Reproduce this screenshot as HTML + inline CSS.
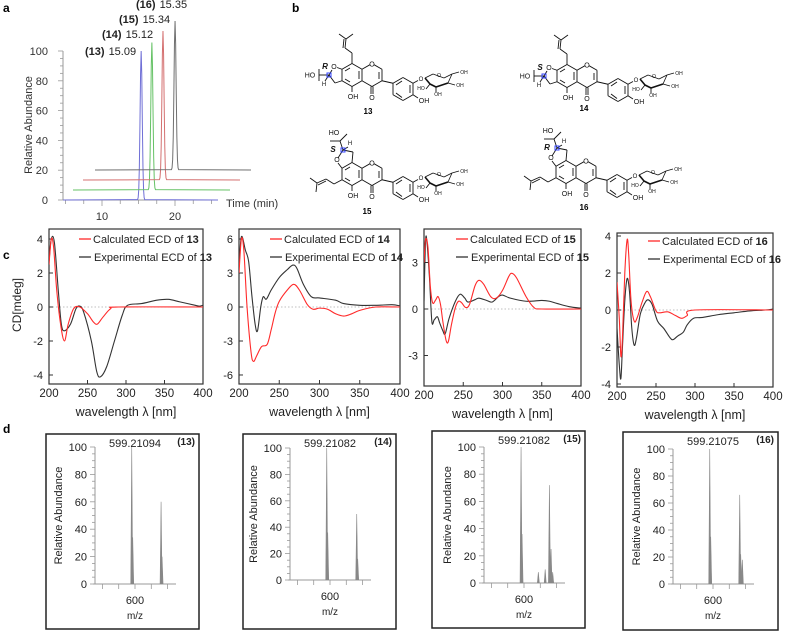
<!DOCTYPE html>
<html><head><meta charset="utf-8"><style>
body{margin:0;background:#fff;}
svg{display:block;font-family:"Liberation Sans",Arial,sans-serif;}
</style></head><body>
<svg id="fig" width="800" height="632" viewBox="0 0 800 632">
<g id="pa"></g>
<g id="pb"></g>
<g id="pc"></g>
<g id="pd"></g>
</svg>
<script>
// ---------- Panel a data ----------
const chromLabels = ["(13)","(14)","(15)","(16)"];
const chromTimes = [15.09, 15.12, 15.34, 15.35];
const chromHeights = [100, 99, 100, 100];
const chromColors = ["#6f6fd6","#66c266","#d47070","#707070"];
const chromYTicks = [0,20,40,60,80,100];
const chromXTicks = [10,20];
// ---------- Panel c data ----------
const ecdWl13 = [200,203,206,210,215,220,225,232,240,250,258,263,270,280,290,400];
const ecdCalc13 = [2.5,4,3.5,1,-1,-2,-1,-0.1,0,-0.4,-0.9,-1,-0.6,-0.1,0,0];
const ecdWlE13 = [200,203,207,212,216,220,228,235,240,245,255,262,267,275,285,295,302,320,340,355,370,390,395,400];
const ecdExp13 = [2.7,4,3.8,1,-1,-1.4,-1,-0.1,0.05,-0.3,-2,-3.8,-4.1,-3.5,-2,-0.5,0.1,0.2,0.4,0.45,0.3,0.1,0.05,0.1];
const ecdWl14 = [200,203,206,210,215,218,222,228,235,240,245,250,260,268,275,285,292,300,310,320,330,340,350,370,400];
const ecdCalc14 = [3,6,5,0,-4,-4.8,-4.3,-3.5,-3.3,-2,-0.5,0.5,1.5,2,1.5,0.2,-0.2,-0.1,-0.2,-0.6,-0.8,-0.6,-0.3,0,0];
const ecdWlE14 = [200,203,208,212,216,220,223,227,230,234,240,250,260,267,272,280,290,300,320,330,350,370,390,400];
const ecdExp14 = [3.5,6.2,5,4,1,-1.5,-2.1,0,0.9,0.7,1.5,2.6,3.3,3.7,3.4,2,0.9,0.8,0.6,0.3,0.15,0.15,0.2,0.1];
const ecdWl15 = [200,202,205,208,211,215,218,221,224,228,231,235,240,244,248,253,258,265,270,276,285,292,300,308,312,318,330,340,350,400];
const ecdCalc15 = [3,4.5,4,1.5,0.4,0.6,0.8,0.3,-0.8,-2,-2.1,-1,0.1,0.5,0.4,0.1,0.3,1.5,1.85,1.6,0.8,0.7,1.2,2.1,2.3,2,0.8,0.1,0,0];
const ecdWlE15 = [200,202,204,207,210,213,217,220,224,227,232,240,246,252,256,265,270,280,287,295,300,310,330,350,360,370,385,400];
const ecdExp15 = [0.5,4.4,4.2,2,-0.8,-0.7,-0.5,-0.9,-1.4,-1.6,-0.6,0.5,0.95,0.7,0.45,0.6,0.7,0.55,0.45,0.8,0.9,0.7,0.5,0.55,0.5,0.35,0.15,0.05];
const ecdWl16 = [200,203,205,207,210,213,215,218,222,226,232,238,243,250,255,265,275,283,290,300,400];
const ecdCalc16 = [1.5,-0.5,-2.5,-1.5,2,3.8,3,0.5,-0.6,-0.4,0.4,1,0.7,-0.05,-0.15,-0.1,-0.3,-0.45,-0.3,0,0];
const ecdWlE16 = [200,203,205,207,210,213,216,219,222,225,230,236,240,245,252,260,268,272,278,285,290,298,310,330,350,370,390,400];
const ecdExp16 = [-1,-3,-3.7,-2,0.5,1.7,1,-1,-1.9,-1.5,-0.2,0.4,0.55,0.3,-0.6,-1,-1.5,-1.6,-1.4,-1.2,-0.8,-0.45,-0.4,-0.25,-0.15,-0.05,0,0.05];
const ecdYTicks13 = [-4,-2,0,2,4];
const ecdYTicks14 = [-6,-3,0,3,6];
const ecdYTicks15 = [-3,0,3];
const ecdYTicks16 = [-4,-2,0,2,4];
const ecdXTicks = [200,250,300,350,400];
// ---------- Panel d data ----------
const msLabels = ["(13)","(14)","(15)","(16)"];
const msBasePeak = ["599.21094","599.21082","599.21082","599.21075"];
const msMz13 = [599.0,599.3,608.0,608.3];
const msAb13 = [100,34,60,20];
const msMz14 = [599.0,599.3,608.2,608.5];
const msAb14 = [100,36,50,16];
const msMz15 = [599.1,599.4,604.4,606.5,607.8,608.3,608.8];
const msAb15 = [100,36,8,10,72,25,8];
const msMz16 = [599.0,599.3,608.2,608.5,609.0];
const msAb16 = [100,35,66,22,18];
const msYTicks = [0,20,40,60,80,100];
const msXTicks = [590,595,600,605,610];

const NS="http://www.w3.org/2000/svg";
function mk(parent,tag,attrs,text){const e=document.createElementNS(NS,tag);for(const k in attrs)e.setAttribute(k,attrs[k]);if(text!==undefined)e.textContent=text;parent.appendChild(e);return e;}
function smooth(pts){if(pts.length<2)return "";let d="M"+pts[0][0].toFixed(2)+","+pts[0][1].toFixed(2);
 for(let i=0;i<pts.length-1;i++){const p0=pts[i-1]||pts[i],p1=pts[i],p2=pts[i+1],p3=pts[i+2]||p2;
 const c1=[p1[0]+(p2[0]-p0[0])/6,p1[1]+(p2[1]-p0[1])/6],c2=[p2[0]-(p3[0]-p1[0])/6,p2[1]-(p3[1]-p1[1])/6];
 d+="C"+c1[0].toFixed(2)+","+c1[1].toFixed(2)+" "+c2[0].toFixed(2)+","+c2[1].toFixed(2)+" "+p2[0].toFixed(2)+","+p2[1].toFixed(2);}return d;}

const fig=document.getElementById('fig');
[["a",3,12],["b",292,12],["c",3,259],["d",3,433]].forEach(l=>{
 const t=mk(fig,'text',{x:l[1],y:l[2],'font-size':12,'font-weight':'bold'},l[0]);
 
 
});

// ================= Panel a =================
(function(){
 const g=document.getElementById('pa');
 const X0=63,xA=t=>102+(t-10)*7.3, yA=v=>200-v*1.49;
 mk(g,'line',{x1:X0,y1:yA(0),x2:X0,y2:yA(100),stroke:'#999','stroke-width':1});
 for(let v=0;v<=100;v+=5){mk(g,'line',{x1:X0-(v%20===0?5:3),y1:yA(v),x2:X0,y2:yA(v),stroke:'#999','stroke-width':0.8});}
 chromYTicks.forEach(v=>{const t=mk(g,'text',{x:48,y:yA(v)+4,'font-size':11,'text-anchor':'end',fill:'#333'},String(v));
  });
 mk(g,'line',{x1:X0,y1:yA(0),x2:218,y2:yA(0),stroke:'#999','stroke-width':1});
 for(let t=5;t<=25;t+=2.5){mk(g,'line',{x1:xA(t),y1:yA(0),x2:xA(t),y2:yA(0)+(t%10===0?6:4),stroke:'#999','stroke-width':0.8});}
 chromXTicks.forEach(v=>{const t=mk(g,'text',{x:xA(v),y:220,'font-size':11,'text-anchor':'middle',fill:'#333'},String(v));
  });
 const yt=mk(g,'text',{x:0,y:0,'font-size':11,'text-anchor':'middle',fill:'#333',transform:'translate(32,125) rotate(-90)'},'Relative Abundance');
 
 const xt=mk(g,'text',{x:226,y:207,'font-size':11,fill:'#333'},'Time (min)');
 
 const dxs=[2,12.5,22,34],dys=[0,6.7,13.4,20.1],starts=[63,73,83,95],ends=[218,230,240,251];
 chromTimes.forEach((tm,i)=>{
  const px=xA(tm)+dxs[i],base=yA(dys[i]),pts=[[starts[i],base]];
  for(let k=-6;k<=6;k++){const x=px+k*0.6;pts.push([x,base-chromHeights[i]*1.49*Math.exp(-(k*k)/6)]);}
  pts.push([ends[i],base]);
  const p=mk(g,'polyline',{points:pts.map(q=>q.join(',')).join(' '),fill:'none',stroke:chromColors[i],'stroke-width':1});
  
  const lx=[85,102,119,136][i],ly=[55,38,23,8][i];
  const lb=mk(g,'text',{x:lx,y:ly,'font-size':11,fill:'#222'});
  mk(lb,'tspan',{'font-weight':'bold'},chromLabels[i]);mk(lb,'tspan',{dx:4},String(chromTimes[i].toFixed(2)));
  
 });
})();

// ================= Panel b =================
(function(){
 const g=document.getElementById('pb');
 function L(p,a,b,c,d,w){mk(p,'line',{x1:a,y1:b,x2:c,y2:d,stroke:'#111','stroke-width':w||0.9});}
 function T(p,x,y,s,fs,extra){const t=mk(p,'text',Object.assign({x:x,y:y,'font-size':fs||6,'text-anchor':'middle',fill:'#111'},extra||{}),s);return t;}
 function struct(cx,cy,type,num,stereo,lx,ly){
  const s=mk(g,'g',{transform:`translate(${cx},${cy})`});
  
  const A=[[0,-11.5],[10,-5.75],[10,5.75],[0,11.5],[-10,5.75],[-10,-5.75]];
  for(let i=0;i<6;i++)L(s,A[i][0],A[i][1],A[(i+1)%6][0],A[(i+1)%6][1]);
  L(s,7,-4,7,4);L(s,-7,4,-2,7);L(s,-2,-7,-7,-4);
  L(s,10,-5.75,18,-10.3);L(s,22,-10.3,30,-5.75);L(s,30,-5.75,30,5.75);L(s,30,5.75,20,11.5);L(s,20,11.5,10,5.75);
  L(s,27,-3,27,4);T(s,20,-8.5,'O',7);
  L(s,19,11.5,19,19);L(s,21,11.5,21,19);T(s,20,25,'O',7);
  L(s,0,11.5,0,17);T(s,1,24,'OH',7);
  L(s,30,5.75,41,8.25);
  const B=[[51,2.5],[61,8.25],[61,19.75],[51,25.5],[41,19.75],[41,8.25]];
  for(let i=0;i<6;i++)L(s,B[i][0],B[i][1],B[(i+1)%6][0],B[(i+1)%6][1]);
  L(s,44,10,50,6);L(s,58,10,58,18);L(s,44,18,50,22.5);
  L(s,61,19.75,66,23);T(s,72,28,'OH',7);
  L(s,61,8.25,66,5.5);T(s,69,6,'O',6);
  const ch=[[73,3],[81,-1],[92,3],[100,-1],[96,8],[84,12],[78,9]];
  for(let i=0;i<ch.length;i++)L(s,ch[i][0],ch[i][1],ch[(i+1)%ch.length][0],ch[(i+1)%ch.length][1],i>3?1.6:0.8);
  T(s,87,2,'O',5);L(s,100,-1,107,-3);T(s,112,-1,'OH',5);
  L(s,96,8,103,10);T(s,108,12,'OH',5);L(s,84,12,84,17);T(s,86,21,'OH',5);L(s,78,9,74,14);T(s,69,15,'HO',5);
  if(type==='A'){
   L(s,-10,-5.75,-15,-7.5);T(s,-18,-6,'O',7);L(s,-20,-5,-23,0);L(s,-23,0,-17,8);L(s,-17,8,-10,5.75);
   L(s,0,-11.5,0,-22);L(s,0,-22,-7,-27);L(s,-7,-27,-6,-36);L(s,-9,-27,-8,-36);L(s,-6,-36,-13,-41);L(s,-6,-36,1,-41);
   L(s,-23,0,-33,0);L(s,-33,0,-33,-6);L(s,-33,0,-33,6);T(s,-42,2.5,'HO',7);
   L(s,-23,0,-27,6);T(s,-28,11,'H',6);
   T(s,-27,-6,stereo,8,{'font-style':'italic','font-weight':'bold'});
   mk(s,'rect',{x:-25,y:-2,width:4,height:4,fill:'none',stroke:'#3344ff','stroke-width':1});
  } else {
   L(s,-10,-5.75,-14,-11);T(s,-15,-12,'O',7);L(s,-14,-16,-9,-24);L(s,-9,-24,1,-22);L(s,1,-22,0,-11.5);
   L(s,-10,5.75,-18,10);L(s,-18,10,-26,5);L(s,-26,5,-35,9);L(s,-26,7,-34,11);L(s,-35,9,-42,4);L(s,-35,9,-36,18);
   L(s,-9,-24,-12,-33);L(s,-12,-33,-22,-33);L(s,-12,-33,-5,-40);T(s,-18,-39,'HO',7);
   L(s,-9,-24,-4,-27);T(s,-2,-29,'H',6);
   T(s,-19,-22,stereo,8,{'font-style':'italic','font-weight':'bold'});
   mk(s,'rect',{x:-11,y:-26,width:4,height:4,fill:'none',stroke:'#3344ff','stroke-width':1});
  }
  const lb=mk(g,'text',{x:lx,y:ly,'font-size':8,'font-weight':'bold','text-anchor':'middle'},String(num));
  
 }
 struct(352,75,'A',13,'R',368,114);
 struct(567,76,'A',14,'S',584,111);
 struct(352,174,'B',15,'S',367,214);
 struct(566,172,'B',16,'R',584,210);
})();

// ================= Panel c =================
(function(){
 const g=document.getElementById('pc');
 const plots=[
  {n:13,l:49,r:203,t:229,b:384,y0:307,k:17,yt:ecdYTicks13,cw:ecdWl13,cv:ecdCalc13,ew:ecdWlE13,ev:ecdExp13,lgx:79,lgy:239},
  {n:14,l:239,r:400,t:229,b:384,y0:307,k:11.33,yt:ecdYTicks14,cw:ecdWl14,cv:ecdCalc14,ew:ecdWlE14,ev:ecdExp14,lgx:270,lgy:239},
  {n:15,l:424,r:581,t:229,b:386,y0:309,k:15.5,yt:ecdYTicks15,cw:ecdWl15,cv:ecdCalc15,ew:ecdWlE15,ev:ecdExp15,lgx:456,lgy:239},
  {n:16,l:617,r:773,t:233,b:387,y0:310,k:18.5,yt:ecdYTicks16,cw:ecdWl16,cv:ecdCalc16,ew:ecdWlE16,ev:ecdExp16,lgx:648,lgy:241}
 ];
 plots.forEach(P=>{
  const s=mk(g,'g',{});
  
  const xS=w=>P.l+(w-200)/200*(P.r-P.l), yS=v=>P.y0-v*P.k;
  mk(s,'rect',{x:P.l,y:P.t,width:P.r-P.l,height:P.b-P.t,fill:'none',stroke:'#333','stroke-width':1.2});
  mk(s,'line',{x1:P.l,y1:yS(0),x2:P.r,y2:yS(0),stroke:'#aaa','stroke-width':0.8,'stroke-dasharray':'1.5,2'});
  P.yt.forEach(v=>{mk(s,'line',{x1:P.l,y1:yS(v),x2:P.l+4,y2:yS(v),stroke:'#333'});
   const t=mk(s,'text',{x:P.l-6,y:yS(v)+4,'font-size':11,'text-anchor':'end',fill:'#222'},String(v));
   });
  ecdXTicks.forEach(v=>{mk(s,'line',{x1:xS(v),y1:P.b,x2:xS(v),y2:P.b-4,stroke:'#333'});
   const t=mk(s,'text',{x:xS(v),y:P.b+13,'font-size':11.5,'text-anchor':'middle',fill:'#222'},String(v));
   });
  const xt=mk(s,'text',{x:(P.l+P.r)/2,y:P.b+32,'font-size':12.5,'text-anchor':'middle',fill:'#222'},'wavelength λ [nm]');
  
  const clip='clip'+P.n;const cp=mk(s,'clipPath',{id:clip});mk(cp,'rect',{x:P.l,y:P.t,width:P.r-P.l,height:P.b-P.t});
  const e=mk(s,'path',{d:smooth(P.ew.map((w,i)=>[xS(w),yS(P.ev[i])])),fill:'none',stroke:'#333','stroke-width':1.1,'clip-path':`url(#${clip})`});
  
  const c=mk(s,'path',{d:smooth(P.cw.map((w,i)=>[xS(w),yS(P.cv[i])])),fill:'none',stroke:'#ff2a2a','stroke-width':1.1,'clip-path':`url(#${clip})`});
  
  const lg=mk(s,'g',{});
  mk(lg,'line',{x1:P.lgx,y1:P.lgy,x2:P.lgx+12,y2:P.lgy,stroke:'#ff2a2a','stroke-width':1.3});
  const t1=mk(lg,'text',{x:P.lgx+14,y:P.lgy+4,'font-size':11,fill:'#222'},'Calculated ECD of ');mk(t1,'tspan',{'font-weight':'bold'},String(P.n));
  mk(lg,'line',{x1:P.lgx,y1:P.lgy+18,x2:P.lgx+12,y2:P.lgy+18,stroke:'#333','stroke-width':1.3});
  const t2=mk(lg,'text',{x:P.lgx+15,y:P.lgy+22,'font-size':11,fill:'#222'},'Experimental ECD of ');mk(t2,'tspan',{'font-weight':'bold'},String(P.n));
 });
 const yt=mk(g,'text',{x:0,y:0,'font-size':12,'text-anchor':'middle',fill:'#222',transform:'translate(21,305) rotate(-90)'},'CD[mdeg]');
 
})();

// ================= Panel d =================
(function(){
 const g=document.getElementById('pd');
 const boxes=[
  {bl:46,br:199,bt:434,bb:629,ax:95,y0:584,y100:447,mz:msMz13,ab:msAb13},
  {bl:243,br:396,bt:434,bb:629,ax:290,y0:580,y100:448,mz:msMz14,ab:msAb14},
  {bl:432,br:585,bt:431,bb:628,ax:484,y0:583,y100:447,mz:msMz15,ab:msAb15},
  {bl:623,br:778,bt:432,bb:630,ax:673,y0:584,y100:449,mz:msMz16,ab:msAb16}
 ];
 boxes.forEach((B,i)=>{
  const s=mk(g,'g',{});
  
  mk(s,'rect',{x:B.bl,y:B.bt,width:B.br-B.bl,height:B.bb-B.bt,fill:'none',stroke:'#222','stroke-width':1.5});
  const x600=B.ax+40, xS=m=>x600+(m-600)*3.26, yS=v=>B.y0-v*(B.y0-B.y100)/100;
  mk(s,'line',{x1:B.ax,y1:B.y0,x2:B.ax,y2:B.y100,stroke:'#999','stroke-width':1});
  for(let v=0;v<=100;v+=5)mk(s,'line',{x1:B.ax-(v%20===0?5:3),y1:yS(v),x2:B.ax,y2:yS(v),stroke:'#999','stroke-width':0.8});
  msYTicks.forEach(v=>{const t=mk(s,'text',{x:B.ax-8,y:yS(v)+4,'font-size':11,'text-anchor':'end',fill:'#222'},String(v));
   });
  mk(s,'line',{x1:B.ax-2,y1:B.y0,x2:B.ax+81,y2:B.y0,stroke:'#999','stroke-width':1});
  msXTicks.forEach(v=>mk(s,'line',{x1:xS(v),y1:B.y0,x2:xS(v),y2:B.y0+5,stroke:'#999','stroke-width':0.8}));
  const t6=mk(s,'text',{x:x600,y:B.y0+20,'font-size':11,'text-anchor':'middle',fill:'#222'},'600');
  
  const mzt=mk(s,'text',{x:x600,y:B.y0+35,'font-size':10,'text-anchor':'middle',fill:'#222'},'m/z');
  
  const ra=mk(s,'text',{x:0,y:0,'font-size':11,'text-anchor':'middle',fill:'#222',transform:`translate(${B.ax-33},${(B.y0+B.y100)/2}) rotate(-90)`},'Relative Abundance');
  
  B.mz.forEach((m,j)=>{const p=mk(s,'path',{d:`M${xS(m)-1},${B.y0} L${xS(m)},${yS(B.ab[j])} L${xS(m)+1},${B.y0}`,fill:'#888',stroke:'#888','stroke-width':0.6});
   });
  const bp=mk(s,'text',{x:x600,y:B.bt+13,'font-size':11,'text-anchor':'middle',fill:'#222'},msBasePeak[i]);
  
  const lb=mk(s,'text',{x:B.br-4,y:B.bt+11,'font-size':10,'font-weight':'bold','text-anchor':'end',fill:'#222'},msLabels[i]);
  
 });
})();
</script>
</body></html>
